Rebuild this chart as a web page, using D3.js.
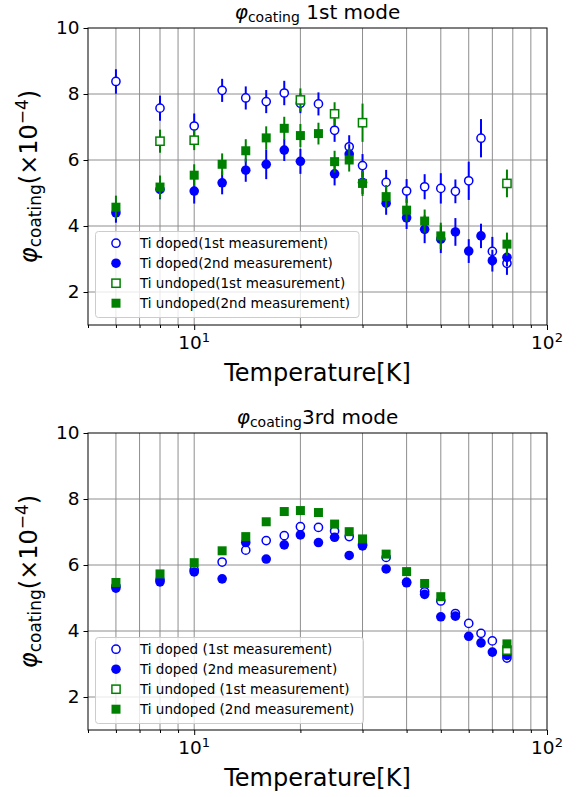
<!DOCTYPE html>
<html><head><meta charset="utf-8">
<script src="https://cdn.jsdelivr.net/npm/d3@7"></script>
<style>body{margin:0;background:#fff} svg{display:block} text{font-family:"DejaVu Sans",sans-serif;fill:#000}</style>
</head><body>
<script>
// ---------- data ----------
const temps = [6, 8, 10, 12, 14, 16, 18, 20, 22.5, 25, 27.5, 30, 35, 40, 45, 50, 55, 60, 65, 70, 77];

// 1st mode
const m1DopedFirstT = temps;
const m1DopedFirst = [8.38, 7.57, 7.03, 8.11, 7.88, 7.77, 8.03, 7.72, 7.70, 6.90, 6.40, 5.83, 5.32, 5.06, 5.19, 5.14, 5.05, 5.37, 6.66, 3.23, 2.87];
const m1DopedFirstErr = [0.37, 0.38, 0.38, 0.35, 0.35, 0.35, 0.37, 0.30, 0.35, 0.35, 0.35, 0.35, 0.38, 0.36, 0.38, 0.46, 0.36, 0.58, 0.58, 0.44, 0.35];

const m1DopedSecondT = [6, 8, 10, 12, 14, 16, 18, 20, 25, 27.5, 30, 35, 40, 45, 50, 55, 60, 65, 70, 77];
const m1DopedSecond = [4.40, 5.11, 5.06, 5.31, 5.69, 5.87, 6.30, 5.96, 5.58, 6.18, 5.32, 4.69, 4.25, 3.90, 3.60, 3.82, 3.24, 3.70, 2.95, 3.05];
const m1DopedSecondErr = [0.30, 0.30, 0.38, 0.35, 0.35, 0.45, 0.33, 0.38, 0.35, 0.30, 0.35, 0.35, 0.34, 0.42, 0.42, 0.42, 0.36, 0.37, 0.33, 0.27];

const m1UndopedFirstT = [8, 10, 20, 25, 30, 77];
const m1UndopedFirst = [6.57, 6.60, 7.82, 7.40, 7.13, 5.29];
const m1UndopedFirstErr = [0.35, 0.30, 0.35, 0.35, 0.58, 0.42];

const m1UndopedSecondT = [6, 8, 10, 12, 14, 16, 18, 20, 22.5, 25, 27.5, 30, 35, 40, 45, 50, 77];
const m1UndopedSecond = [4.57, 5.18, 5.54, 5.87, 6.28, 6.67, 6.96, 6.74, 6.80, 5.95, 6.00, 5.29, 4.89, 4.48, 4.15, 3.70, 3.45];
const m1UndopedSecondErr = [0.35, 0.35, 0.33, 0.33, 0.35, 0.35, 0.35, 0.35, 0.33, 0.33, 0.35, 0.38, 0.35, 0.35, 0.35, 0.40, 0.35];

// 3rd mode
const m3DopedFirstT = temps;
const m3DopedFirst = [5.36, 5.55, 5.85, 6.09, 6.45, 6.74, 6.89, 7.16, 7.14, 7.03, 6.86, 6.62, 6.23, 5.48, 5.19, 4.91, 4.53, 4.23, 3.93, 3.70, 3.18];
const m3DopedSecondT = temps;
const m3DopedSecond = [5.30, 5.49, 5.79, 5.58, 6.68, 6.18, 6.61, 6.91, 6.68, 6.84, 6.29, 6.58, 5.88, 5.46, 5.11, 4.43, 4.45, 3.84, 3.64, 3.36, 3.26];
const m3UndopedFirstT = [77];
const m3UndopedFirst = [3.42];
const m3UndopedSecondT = [6, 8, 10, 12, 14, 16, 18, 20, 22.5, 25, 27.5, 30, 35, 40, 45, 50, 77];
const m3UndopedSecond = [5.47, 5.73, 6.07, 6.43, 6.86, 7.31, 7.62, 7.65, 7.59, 7.24, 7.01, 6.79, 6.33, 5.80, 5.44, 5.04, 3.61];

const yTicks = [2, 4, 6, 8, 10];
const xMajor = [10, 100];
const xMinor = [5, 6, 7, 8, 9, 20, 30, 40, 50, 60, 70, 80, 90];
const legend1 = ["Ti doped(1st measurement)", "Ti doped(2nd measurement)", "Ti undoped(1st measurement)", "Ti undoped(2nd measurement)"];
const legend3 = ["Ti doped (1st measurement)", "Ti doped (2nd measurement)", "Ti undoped (1st measurement)", "Ti undoped (2nd measurement)"];

// ---------- drawing ----------
const W = 581, H = 797;
const BLUE = "#0000ff", GREEN = "#008000";
const svg = d3.select("body").append("svg").attr("width", W).attr("height", H);

const L = 88, R = 547;
const x = d3.scaleLog().domain([5, 100]).range([L, R]);

function zip(ts, vs, es) { return ts.map((t, i) => ({ t, v: vs[i], e: es ? es[i] : null })); }

function marker(g, kind, color, cx, cy) {
  const open = kind.endsWith("open");
  if (kind.startsWith("circle")) {
    g.append("circle").attr("cx", cx).attr("cy", cy).attr("r", open ? 4.1 : 4.8)
      .attr("fill", open ? "#fff" : color).attr("stroke", color).attr("stroke-width", open ? 1.5 : 0);
  } else {
    const s = open ? 8.2 : 9;
    g.append("rect").attr("x", cx - s / 2).attr("y", cy - s / 2).attr("width", s).attr("height", s)
      .attr("fill", open ? "#fff" : color).attr("stroke", color).attr("stroke-width", open ? 1.5 : 0);
  }
}

function panel(cfg) {
  const T = cfg.top, B = cfg.bottom;
  const y = d3.scaleLinear().domain([1, 10]).range([B, T]);
  const g = svg.append("g");

  // grid
  g.selectAll(".vg").data(xMinor.concat(xMajor).filter(d => d > 5 && d < 100)).enter().append("line")
    .attr("x1", d => x(d)).attr("x2", d => x(d)).attr("y1", T).attr("y2", B)
    .attr("stroke", "#8e8e8e").attr("stroke-width", 1);
  g.selectAll(".hg").data(yTicks.filter(d => d < 10)).enter().append("line")
    .attr("x1", L).attr("x2", R).attr("y1", d => y(d)).attr("y2", d => y(d))
    .attr("stroke", "#8e8e8e").attr("stroke-width", 1);

  // series
  cfg.series.forEach(s => {
    const sg = g.append("g");
    s.data.forEach(d => {
      if (d.e != null) {
        sg.append("line").attr("x1", x(d.t)).attr("x2", x(d.t))
          .attr("y1", y(d.v - d.e)).attr("y2", y(d.v + d.e))
          .attr("stroke", s.color).attr("stroke-width", 2);
      }
      marker(sg, s.kind, s.color, x(d.t), y(d.v));
    });
  });

  // axes
  const ya = d3.axisLeft(y).tickValues(yTicks).tickSize(4.5).tickPadding(4).tickFormat(d3.format("d"));
  const yg = g.append("g").attr("transform", `translate(${L},0)`).call(ya);
  yg.select(".domain").remove();
  yg.selectAll("text").attr("font-size", 18.5).attr("font-family", "DejaVu Sans").attr("fill", "#000");
  yg.selectAll("line").attr("stroke", "#000");

  const xaMin = d3.axisBottom(x).tickValues(xMinor).tickSize(3).tickFormat("");
  const xgm = g.append("g").attr("transform", `translate(0,${B})`).call(xaMin);
  xgm.select(".domain").remove();
  xgm.selectAll("line").attr("stroke", "#000");
  const xaMaj = d3.axisBottom(x).tickValues(xMajor).tickSize(5).tickFormat("");
  const xgM = g.append("g").attr("transform", `translate(0,${B})`).call(xaMaj);
  xgM.select(".domain").remove();
  xgM.selectAll("line").attr("stroke", "#000");
  xMajor.forEach(v => {
    const t = g.append("text").attr("x", x(v)).attr("y", B + 24).attr("text-anchor", "middle").attr("font-size", 18.5);
    t.append("tspan").text("10");
    t.append("tspan").attr("dy", -7).attr("font-size", 13).text(String(Math.round(Math.log10(v))));
  });

  // frame
  g.append("rect").attr("x", L).attr("y", T).attr("width", R - L).attr("height", B - T)
    .attr("fill", "none").attr("stroke", "#000").attr("stroke-width", 1);

  // title
  const tt = g.append("text").attr("x", (L + R) / 2).attr("y", T - 9).attr("text-anchor", "middle").attr("font-size", 20);
  tt.append("tspan").attr("font-style", "italic").text("φ");
  tt.append("tspan").attr("font-size", 14).attr("dy", 3).text("coating");
  tt.append("tspan").attr("dy", -3).text(cfg.titleRest);

  // x label
  g.append("text").attr("x", (L + R) / 2).attr("y", B + 56).attr("text-anchor", "middle")
    .attr("font-size", 24).text("Temperature[K]");

  // y label
  const yl = g.append("text").attr("transform", `translate(37,${(T + B) / 2}) rotate(-90)`)
    .attr("text-anchor", "middle").attr("font-size", 24);
  yl.append("tspan").attr("font-style", "italic").text("φ");
  yl.append("tspan").attr("font-size", 17).attr("dy", 4).text("coating");
  yl.append("tspan").attr("dy", -4).text("(×10");
  yl.append("tspan").attr("font-size", 17).attr("dy", -9).text("−4");
  yl.append("tspan").attr("dy", 9).text(")");

  // legend
  const lg = g.append("g");
  lg.append("rect").attr("x", 95.5).attr("y", cfg.legTop).attr("width", cfg.legW).attr("height", 86)
    .attr("rx", 3).attr("fill", "#fff").attr("fill-opacity", 0.8).attr("stroke", "#cccccc").attr("stroke-width", 1);
  cfg.series.forEach((s, i) => {
    const cy = cfg.legTop + 11.7 + i * 20;
    marker(lg, s.kind, s.color, 116, cy);
    lg.append("text").attr("x", 140).attr("y", cy).attr("dy", "0.36em").attr("font-size", 13.5).text(cfg.labels[i]);
  });
}

panel({
  top: 28, bottom: 325, titleRest: " 1st mode", legTop: 231.5, legW: 263.5, labels: legend1,
  series: [
    { kind: "circle-open", color: BLUE, data: zip(m1DopedFirstT, m1DopedFirst, m1DopedFirstErr) },
    { kind: "circle", color: BLUE, data: zip(m1DopedSecondT, m1DopedSecond, m1DopedSecondErr) },
    { kind: "square-open", color: GREEN, data: zip(m1UndopedFirstT, m1UndopedFirst, m1UndopedFirstErr) },
    { kind: "square", color: GREEN, data: zip(m1UndopedSecondT, m1UndopedSecond, m1UndopedSecondErr) }
  ]
});
panel({
  top: 433, bottom: 730, titleRest: "3rd mode", legTop: 637.5, legW: 268, labels: legend3,
  series: [
    { kind: "circle-open", color: BLUE, data: zip(m3DopedFirstT, m3DopedFirst) },
    { kind: "circle", color: BLUE, data: zip(m3DopedSecondT, m3DopedSecond) },
    { kind: "square-open", color: GREEN, data: zip(m3UndopedFirstT, m3UndopedFirst) },
    { kind: "square", color: GREEN, data: zip(m3UndopedSecondT, m3UndopedSecond) }
  ]
});
</script>
</body></html>
